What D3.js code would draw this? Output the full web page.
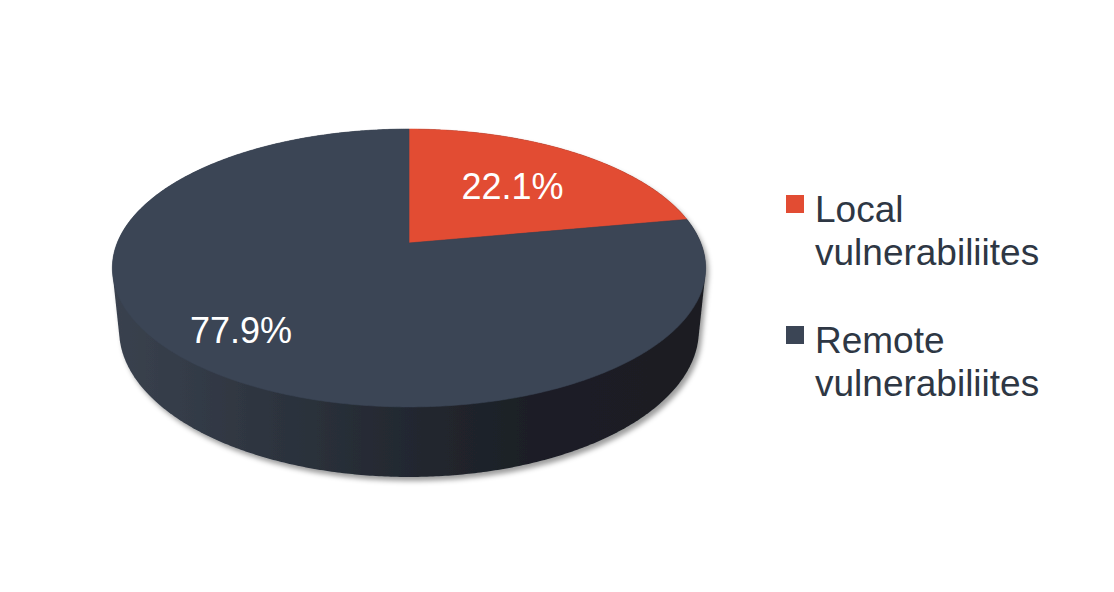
<!DOCTYPE html>
<html>
<head>
<meta charset="utf-8">
<script src="https://cdn.jsdelivr.net/npm/d3@7"></script>
<style>
  html, body { margin: 0; padding: 0; background: #ffffff; }
  svg { display: block; }
</style>
</head>
<body>
<svg id="chart" width="1114" height="592"></svg>
<script>
// ---- data ----
const categories = ["Local vulnerabiliites", "Remote vulnerabiliites"];
const values = [22.1, 77.9];
const valueLabels = ["22.1%", "77.9%"];

// ---- layout / style ----
const W = 1114, H = 592;
const sliceColors = ["#e24c33", "#3b4555"];
const legendText = "#2e3744";
const cam = { cx: 409, cy: 243, f: 1440, R: 1.1267, D: 5.56, phi: Math.asin(0.4607), h: 0.273 };
const labelFrac = [0.6, 0.8];
const labelNudgeY = [0, -6];

const svg = d3.select("#chart");
const defs = svg.append("defs");

const grad = defs.append("linearGradient")
  .attr("id", "sideGrad").attr("gradientUnits", "userSpaceOnUse")
  .attr("x1", 110).attr("y1", 0).attr("x2", 708).attr("y2", 0);
[[0, "#3a424f"], [0.25, "#2e3540"], [0.5, "#232830"], [0.7, "#1c1f26"], [1, "#1a1d23"]]
  .forEach(([o, c]) => grad.append("stop").attr("offset", o).attr("stop-color", c));

const shadow = defs.append("filter").attr("id", "shadow")
  .attr("x", "-10%").attr("y", "-10%").attr("width", "120%").attr("height", "130%");
shadow.append("feDropShadow").attr("dx", 3).attr("dy", 4).attr("stdDeviation", 2.5)
  .attr("flood-color", "#000").attr("flood-opacity", 0.38);

// perspective projection of a point on the disc (theta clockwise from far side)
function proj(theta, k, top) {
  const wy = top ? 0 : -cam.h;
  const wx = cam.R * k * Math.sin(theta);
  const wv = cam.R * k * Math.cos(theta);
  const c = Math.cos(cam.phi), s = Math.sin(cam.phi);
  const up = wy * c + wv * s;
  const depth = cam.D + wv * c - wy * s;
  return [cam.cx + cam.f * wx / depth, cam.cy - cam.f * up / depth];
}

const pie = d3.pie().sort(null).value(d => d);
const arcs = pie(values);

const line = d3.line().curve(d3.curveLinear);
const N = 720;

// silhouette of the cylinder (side wall)
const pts = [];
for (let i = 0; i < N; i++) {
  const t = i / N * 2 * Math.PI;
  pts.push(proj(t, 1, true), proj(t, 1, false));
}
const hull = d3.polygonHull(pts);
svg.append("path")
  .attr("d", line(hull) + "Z")
  .attr("fill", "url(#sideGrad)")
  .attr("filter", "url(#shadow)");

// top faces
function topSlicePath(a) {
  const p = [proj(0, 0, true)];
  const n = Math.max(4, Math.ceil((a.endAngle - a.startAngle) / (2 * Math.PI) * N));
  for (let i = 0; i <= n; i++) {
    const t = a.startAngle + (a.endAngle - a.startAngle) * i / n;
    p.push(proj(t, 1, true));
  }
  return line(p) + "Z";
}
svg.append("g").selectAll("path").data(arcs).join("path")
  .attr("d", topSlicePath)
  .attr("fill", (d, i) => sliceColors[i])
  .attr("stroke", (d, i) => sliceColors[i])
  .attr("stroke-width", 0.6);

// data labels
svg.append("g").selectAll("text").data(arcs).join("text")
  .attr("x", (d, i) => proj((d.startAngle + d.endAngle) / 2, labelFrac[i], true)[0])
  .attr("y", (d, i) => proj((d.startAngle + d.endAngle) / 2, labelFrac[i], true)[1] + labelNudgeY[i])
  .attr("dy", "0.36em")
  .attr("text-anchor", "middle")
  .attr("font-family", "'Liberation Sans', Arial, sans-serif")
  .attr("font-size", 36)
  .attr("fill", "#ffffff")
  .text((d, i) => valueLabels[i]);

// legend
const legend = svg.append("g").attr("transform", "translate(786,195)");
const entry = legend.selectAll("g").data(categories).join("g")
  .attr("transform", (d, i) => `translate(0,${i * 131})`);
entry.append("rect").attr("width", 18).attr("height", 18)
  .attr("fill", (d, i) => sliceColors[i]);
entry.append("text")
  .attr("font-family", "'Liberation Sans', Arial, sans-serif")
  .attr("font-size", 37)
  .attr("fill", legendText)
  .selectAll("tspan").data(d => d.split(" ")).join("tspan")
  .attr("x", 29)
  .attr("y", (d, j) => 27 + j * 43)
  .text(d => d);
</script>
</body>
</html>
